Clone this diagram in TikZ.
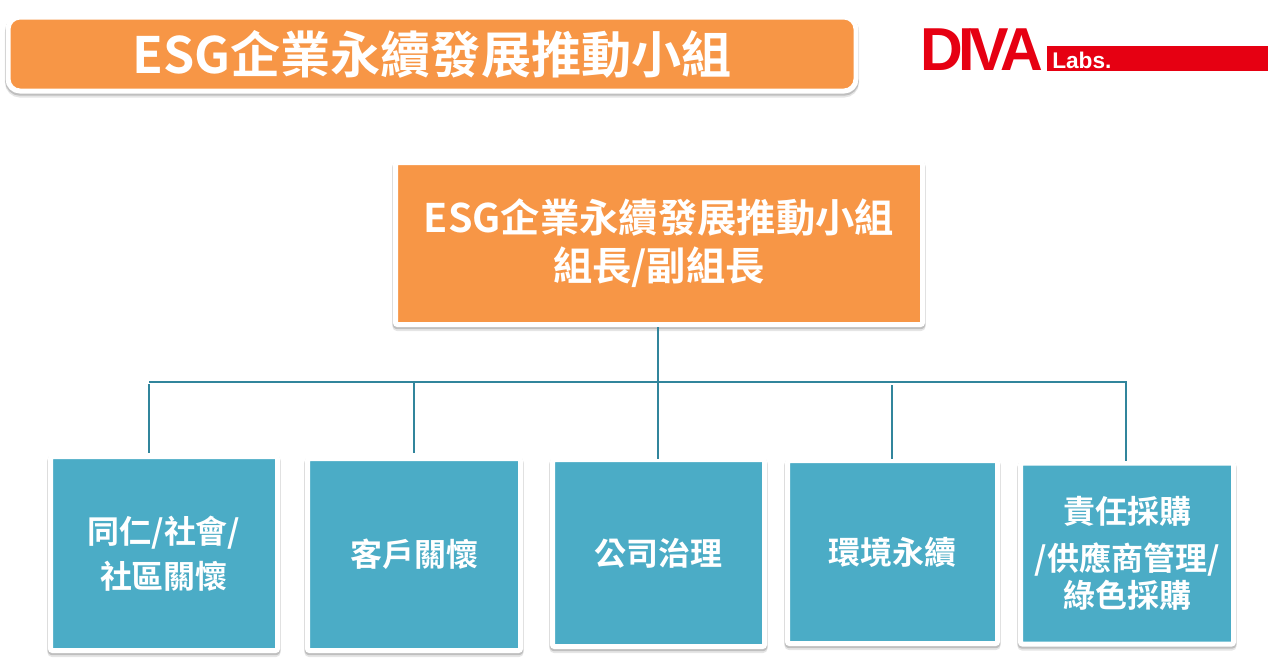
\documentclass[tikz,border=0pt]{standalone}
\usepackage{fontspec}
\setmainfont{Noto Sans CJK TC}[BoldFont={Noto Sans CJK TC Bold}]
\newfontfamily\logofont{Liberation Sans}[BoldFont={Liberation Sans Bold}]
\usetikzlibrary{shadows}

\definecolor{orangefill}{HTML}{F79646}
\definecolor{tealfill}{HTML}{4BACC6}
\definecolor{tealline}{HTML}{31859C}
\definecolor{logored}{HTML}{E60012}

\tikzset{
	boxsize/.style 2 args={minimum width=#1*0.75pt,minimum height=#2*0.75pt},
	framebox/.style={draw=white,line width=3.75pt,inner sep=0pt,align=center,text=white,font=\bfseries,
		rounded corners=1.5pt,
		drop shadow={shadow xshift=0pt,shadow yshift=-2.6pt,line width=4.6pt,draw=black!10,fill=black!10,opacity=1},
		drop shadow={shadow xshift=0pt,shadow yshift=-1.4pt,line width=4.3pt,draw=black!25,fill=black!25,opacity=1}},
	unitbox/.style={framebox,fill=tealfill,font=\fontsize{24}{34}\selectfont\bfseries},
	busline/.style={draw=tealline,line width=1.5pt}
}

\begin{document}
\begin{tikzpicture}[x=0.75pt,y=-0.75pt]
	\useasboundingbox (0,0) rectangle (1275,669);
	
	% title bar and logo
	\node[framebox,fill=orangefill,boxsize={848}{74},rounded corners=9pt,font=\fontsize{37.6}{45}\selectfont\bfseries] (titlebar) at (432,54) {\raisebox{1pt}{ESG企業永續發展推動小組}};
	\node[fill=logored,boxsize={221}{25},inner sep=0pt] (logobar) at (1157.5,58.5) {};
	\node[anchor=west,text=white,inner sep=0pt,font=\logofont\bfseries\fontsize{17}{17}\selectfont] (logolabs) at (1052,60) {Labs.};
	\node[anchor=east,text=logored,inner sep=0pt,xscale=0.975,font=\logofont\bfseries\fontsize{45.5}{46}\selectfont] (logoname) at (1043,50) {D\kern-3.5pt I\kern-4pt V\kern-7pt A};
	
	% top box
	\node[framebox,fill=orangefill,boxsize={527}{162},font=\fontsize{29.5}{36}\selectfont\bfseries] (topbox) at (659,243.5) {ESG企業永續發展推動小組\\組長/副組長};
	
	% lower boxes
	\node[unitbox,boxsize={227}{194}] (unitone) at (164,553.5) {同仁/社會/\\社區關懷};
	\node[unitbox,boxsize={213}{192}] (unittwo) at (414,554.5) {\raisebox{1pt}{客戶關懷}};
	\node[unitbox,boxsize={212}{187}] (unitthree) at (658.5,553) {\raisebox{1pt}{公司治理}};
	\node[unitbox,boxsize={210}{183}] (unitfour) at (892.5,552) {環境永續};
	\node[unitbox,boxsize={213}{181}] (unitfive) at (1127,553.5) {責任採購\\[1pt]/供應商管理/\\[-6pt]綠色採購};
	
	% connectors
	\coordinate (busleft) at (149,382);
	\coordinate (busright) at (1126,382);
	\coordinate (busone) at (149,384);
	\coordinate (bustwo) at (414,382);
	\coordinate (busmid) at (658,382);
	\coordinate (busfour) at (892,385);
	\coordinate (endone) at (149,453);
	\coordinate (endtwo) at (414,453);
	\coordinate (endthree) at (658,459);
	\coordinate (endfour) at (892,459);
	\draw[busline] (topbox.south -| busmid) -- (busmid);
	\draw[busline] (busleft) -- (busright) -- (unitfive.north -| busright);
	\draw[busline] (busone) -- (endone);
	\draw[busline] (bustwo) -- (endtwo);
	\draw[busline] (busmid) -- (endthree);
	\draw[busline] (busfour) -- (endfour);
	
\end{tikzpicture}
\end{document}
